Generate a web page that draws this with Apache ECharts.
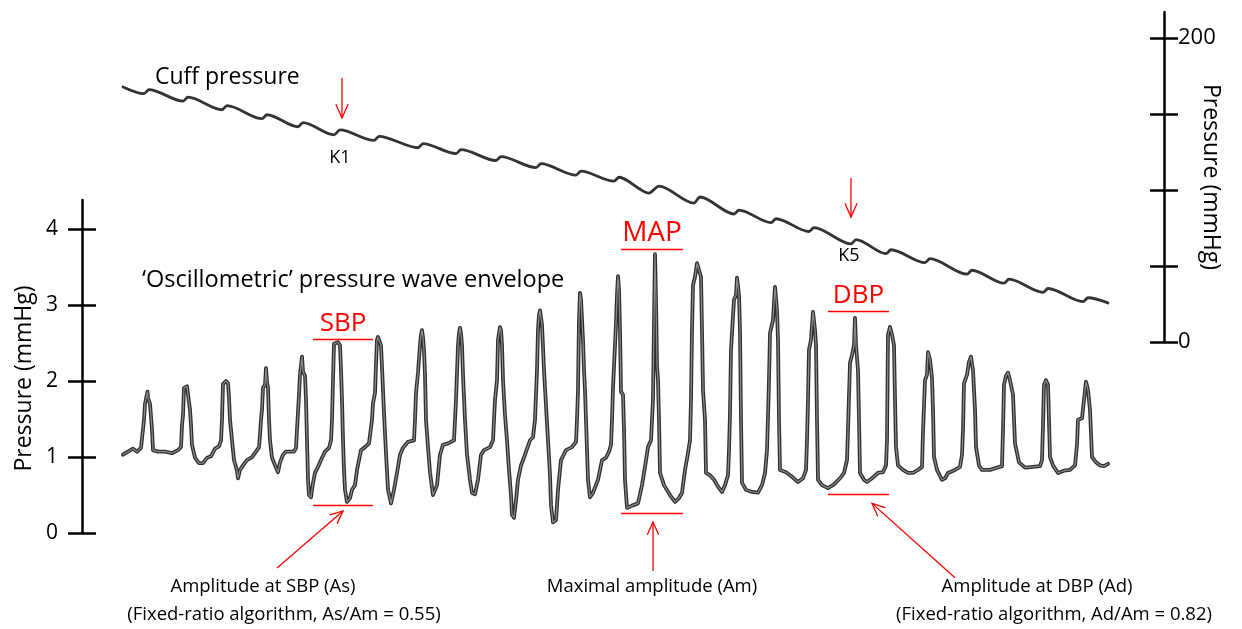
<!DOCTYPE html>
<html>
<head>
<meta charset="utf-8">
<script src="https://cdn.jsdelivr.net/npm/echarts@6/dist/echarts.min.js"></script>
<style>
  html, body { margin: 0; padding: 0; background: #ffffff; }
  #chart { width: 1242px; height: 629px; }
</style>
</head>
<body>
<div id="chart"></div>
<script>
// Oscillometric pulse envelope: [time (s), pressure (mmHg)], 50 Hz trace
const envelope = [
  [0, 1.03], [0.10, 1.07], [0.20, 1.11], [0.28, 1.07], [0.36, 1.12],
  [0.40, 1.14], [0.42, 1.49], [0.44, 1.70], [0.48, 1.71], [0.49, 1.86], [0.50, 1.78], [0.54, 1.70], [0.56, 1.70], [0.58, 1.36], [0.60, 1.09], [0.70, 1.07], [0.84, 1.07], [0.98, 1.05], [1.10, 1.09], [1.16, 1.13],
  [1.18, 1.42], [1.20, 1.55], [1.22, 1.91], [1.28, 1.93], [1.32, 1.91], [1.34, 1.62], [1.36, 1.42], [1.38, 1.16], [1.44, 0.99], [1.52, 0.92], [1.60, 0.92], [1.68, 0.99], [1.76, 1.01], [1.84, 1.11], [1.92, 1.14], [1.96, 1.22],
  [1.98, 1.49], [2.00, 1.96], [2.06, 2.00], [2.10, 1.97], [2.12, 1.78], [2.14, 1.49], [2.18, 1.22], [2.22, 0.96], [2.28, 0.82], [2.30, 0.72], [2.34, 0.83], [2.40, 0.89], [2.48, 0.96], [2.58, 1.00], [2.66, 1.07], [2.72, 1.13], [2.74, 1.29],
  [2.76, 1.49], [2.78, 1.62], [2.80, 1.91], [2.84, 1.95], [2.86, 2.17], [2.88, 1.99], [2.90, 1.91], [2.92, 1.49], [2.94, 1.22], [2.98, 0.99], [3.06, 0.86], [3.10, 0.80], [3.14, 0.93], [3.20, 1.03], [3.26, 1.07], [3.34, 1.07], [3.42, 1.07], [3.46, 1.12],
  [3.48, 1.36], [3.52, 1.82], [3.54, 2.08], [3.58, 2.32], [3.60, 2.12], [3.64, 2.07], [3.66, 1.75], [3.68, 1.22], [3.70, 0.70], [3.72, 0.50], [3.76, 0.47], [3.80, 0.66], [3.84, 0.79], [3.90, 0.87], [3.96, 0.96], [4.04, 1.07], [4.12, 1.12], [4.16, 1.22],
  [4.18, 1.49], [4.20, 2.01], [4.22, 2.49], [4.30, 2.51], [4.34, 2.47], [4.36, 2.14], [4.38, 1.75], [4.40, 1.22], [4.42, 0.83], [4.44, 0.57], [4.48, 0.41], [4.54, 0.46], [4.58, 0.57], [4.64, 0.63], [4.68, 0.83], [4.72, 0.96], [4.76, 1.09], [4.84, 1.13], [4.92, 1.18],
  [4.98, 1.49], [5.00, 1.71], [5.04, 1.84], [5.06, 2.21], [5.08, 2.54], [5.10, 2.58], [5.12, 2.54], [5.16, 2.47], [5.18, 2.18], [5.22, 1.58], [5.26, 1.05], [5.30, 0.57], [5.36, 0.39], [5.42, 0.57], [5.48, 0.79], [5.54, 1.03], [5.60, 1.12], [5.70, 1.20], [5.82, 1.22],
  [5.84, 1.49], [5.86, 1.84], [5.90, 2.11], [5.94, 2.47], [5.96, 2.61], [5.98, 2.67], [6.00, 2.57], [6.02, 2.41], [6.04, 2.08], [6.06, 1.49], [6.10, 1.13], [6.14, 0.80], [6.20, 0.50], [6.24, 0.50], [6.28, 0.63], [6.34, 1.03], [6.40, 1.16], [6.50, 1.18], [6.62, 1.22],
  [6.64, 1.49], [6.66, 1.75], [6.68, 2.11], [6.70, 2.47], [6.72, 2.63], [6.74, 2.70], [6.76, 2.62], [6.78, 2.47], [6.80, 2.08], [6.84, 1.49], [6.88, 1.03], [6.94, 0.70], [6.98, 0.53], [7.04, 0.51], [7.10, 0.70], [7.16, 1.03], [7.22, 1.09], [7.34, 1.13], [7.40, 1.22],
  [7.42, 1.49], [7.44, 1.75], [7.48, 2.01], [7.50, 2.54], [7.54, 2.71], [7.56, 2.67], [7.58, 2.47], [7.60, 2.01], [7.64, 1.55], [7.68, 1.22], [7.72, 0.83], [7.76, 0.50], [7.78, 0.24], [7.82, 0.20], [7.86, 0.43], [7.90, 0.70], [7.96, 0.89], [8.04, 1.03], [8.14, 1.22], [8.20, 1.26],
  [8.24, 1.49], [8.26, 1.82], [8.28, 2.14], [8.30, 2.67], [8.32, 2.87], [8.34, 2.93], [8.36, 2.83], [8.38, 2.74], [8.42, 2.14], [8.46, 1.68], [8.50, 1.22], [8.54, 0.76], [8.56, 0.37], [8.60, 0.14], [8.66, 0.17], [8.70, 0.57], [8.76, 0.96], [8.86, 1.09], [8.98, 1.13], [9.06, 1.20],
  [9.08, 1.49], [9.10, 1.88], [9.12, 2.80], [9.14, 3.16], [9.16, 3.07], [9.20, 2.54], [9.22, 2.14], [9.24, 1.88], [9.26, 1.49], [9.28, 1.09], [9.30, 0.70], [9.34, 0.47], [9.40, 0.53], [9.50, 0.70], [9.58, 0.96], [9.66, 0.99], [9.72, 1.07], [9.76, 1.16],
  [9.78, 1.49], [9.80, 1.91], [9.84, 2.47], [9.86, 2.76], [9.88, 3.13], [9.90, 3.38], [9.92, 3.20], [9.94, 2.67], [9.96, 1.86], [10.00, 1.82], [10.02, 1.36], [10.04, 0.70], [10.08, 0.33], [10.18, 0.36], [10.30, 0.39], [10.38, 0.63], [10.44, 0.87], [10.50, 1.13], [10.56, 1.22],
  [10.60, 1.75], [10.62, 2.76], [10.64, 3.67], [10.66, 3.07], [10.68, 2.20], [10.70, 2.01], [10.72, 1.49], [10.74, 0.79], [10.82, 0.63], [10.94, 0.50], [11.04, 0.41], [11.12, 0.46], [11.18, 0.53], [11.24, 0.83], [11.30, 1.05], [11.34, 1.22],
  [11.36, 1.75], [11.38, 2.67], [11.40, 3.26], [11.44, 3.37], [11.48, 3.55], [11.52, 3.53], [11.56, 3.37], [11.58, 2.67], [11.60, 1.88], [11.64, 1.49], [11.66, 0.79], [11.74, 0.76], [11.82, 0.70], [11.90, 0.61], [11.98, 0.54], [12.04, 0.63], [12.10, 0.76], [12.12, 1.09],
  [12.14, 1.58], [12.16, 2.41], [12.18, 2.63], [12.22, 3.07], [12.26, 3.13], [12.28, 3.36], [12.32, 3.13], [12.34, 2.67], [12.36, 1.49], [12.38, 0.66], [12.46, 0.57], [12.58, 0.54], [12.70, 0.53], [12.78, 0.63], [12.84, 0.79], [12.88, 1.09],
  [12.90, 1.53], [12.92, 2.01], [12.94, 2.63], [13.00, 2.80], [13.04, 3.24], [13.08, 2.93], [13.10, 2.54], [13.12, 1.49], [13.14, 0.83], [13.26, 0.80], [13.38, 0.74], [13.50, 0.67], [13.60, 0.72], [13.66, 0.83], [13.68, 1.22],
  [13.70, 1.75], [13.72, 2.41], [13.76, 2.54], [13.80, 2.91], [13.84, 2.67], [13.86, 2.47], [13.88, 1.49], [13.90, 0.70], [13.98, 0.63], [14.10, 0.59], [14.22, 0.64], [14.34, 0.72], [14.42, 0.79], [14.48, 0.96],
  [14.50, 1.36], [14.54, 2.24], [14.58, 2.34], [14.62, 2.47], [14.64, 2.83], [14.66, 2.47], [14.70, 2.14], [14.72, 1.49], [14.74, 0.79], [14.82, 0.70], [14.88, 0.67], [14.98, 0.72], [15.10, 0.79], [15.20, 0.80], [15.26, 0.89],
  [15.28, 1.22], [15.30, 2.61], [15.34, 2.71], [15.38, 2.61], [15.42, 2.47], [15.44, 1.75], [15.46, 1.13], [15.50, 0.89], [15.60, 0.83], [15.70, 0.79], [15.80, 0.79], [15.90, 0.83], [15.98, 0.87],
  [16.00, 1.33], [16.04, 2.01], [16.08, 2.08], [16.10, 2.38], [16.14, 2.28], [16.18, 2.04], [16.20, 1.62], [16.22, 1.00], [16.28, 0.83], [16.38, 0.70], [16.44, 0.72], [16.50, 0.79], [16.64, 0.83], [16.74, 0.87], [16.78, 1.03],
  [16.80, 1.36], [16.82, 1.97], [16.88, 2.08], [16.92, 2.25], [16.96, 2.32], [17.00, 2.14], [17.04, 1.62], [17.06, 1.13], [17.12, 0.89], [17.18, 0.83], [17.34, 0.83], [17.48, 0.86], [17.58, 0.88],
  [17.60, 1.36], [17.62, 1.95], [17.66, 2.07], [17.70, 2.11], [17.74, 2.01], [17.80, 1.82], [17.84, 1.18], [17.92, 0.93], [18.04, 0.86], [18.20, 0.87], [18.34, 0.88], [18.38, 0.96],
  [18.40, 1.42], [18.42, 1.95], [18.46, 2.01], [18.50, 1.95], [18.54, 1.00], [18.60, 0.89], [18.70, 0.79], [18.82, 0.82], [18.94, 0.83], [19.04, 0.89], [19.08, 1.16],
  [19.10, 1.49], [19.18, 1.51], [19.22, 1.75], [19.26, 1.99], [19.30, 1.88], [19.34, 1.62], [19.38, 1.00], [19.46, 0.93], [19.54, 0.89], [19.62, 0.88], [19.70, 0.91]
];

// Cuff pressure during deflation: [time (s), pressure (mmHg)]
const cuff = [
  [0, 167.8],
  [0.42, 163.4], [0.52, 166.0],
  [1.20, 158.5], [1.30, 161.1],
  [1.98, 152.8], [2.08, 155.5],
  [2.78, 146.9], [2.88, 149.5],
  [3.50, 141.6], [3.60, 144.3],
  [4.22, 136.3], [4.34, 139.5],
  [5.02, 132.6], [5.12, 135.3],
  [5.90, 127.8], [6.00, 130.5],
  [6.66, 123.9], [6.76, 126.5],
  [7.46, 119.4], [7.56, 122.0],
  [8.26, 114.7], [8.36, 117.3],
  [9.06, 109.8], [9.16, 112.4],
  [9.82, 105.8], [9.92, 108.4],
  [10.52, 98.0], [10.72, 102.6],
  [11.42, 91.4], [11.54, 95.4],
  [12.22, 84.2], [12.32, 86.8],
  [12.96, 78.5], [13.06, 81.1],
  [13.72, 72.7], [13.82, 75.3],
  [14.56, 64.5], [14.66, 67.4],
  [15.26, 58.1], [15.36, 60.7],
  [16.04, 52.2], [16.14, 54.8],
  [16.88, 44.6], [16.98, 47.2],
  [17.62, 38.7], [17.72, 41.3],
  [18.40, 32.6], [18.50, 35.2],
  [19.20, 26.5], [19.30, 29.1],
  [19.70, 25.7]
];

const envelopeTicks = [0, 1, 2, 3, 4];
const cuffTicks = [0, 50, 100, 150, 200];
const cuffTickLabels = [0, 200];

// Amplitude markers: name, time span (s), upper and lower level (mmHg)
const markerNames = ['SBP', 'MAP', 'DBP'];
const markerSpans = [[3.80, 5.00], [9.96, 11.20], [14.10, 15.32]];
const markerTop = [2.55, 3.74, 2.92];
const markerBottom = [0.36, 0.26, 0.51];

// Korotkoff sound markers on the cuff trace: time (s), arrow from/to (mmHg), label level
const korotkoffNames = ['K1', 'K5'];
const korotkoffTimes = [4.38, 14.56];
const korotkoffArrowFrom = [173.7, 107.9];
const korotkoffArrowTo = [147.4, 82.2];
const korotkoffLabelLevel = [121.0, 56.6];

const FONT = '"Open Sans", "Noto Sans", sans-serif';
const RED = '#ff0000';
const T_MAX = 19.7;

const chart = echarts.init(document.getElementById('chart'), null, { renderer: 'canvas' });

// Each pressure scale is drawn twice on identical grids: once with outward
// ticks, labels and name, once with inward ticks, so the ticks cross the line.
function pressureAxis(gridIndex, side, inside, max, interval, ticks, labels, offset, nameGap, nameOpts) {
  return Object.assign({
    gridIndex: gridIndex, type: 'value', position: side, offset: offset,
    min: 0, max: max, interval: interval,
    splitLine: { show: false },
    axisLine: { show: !inside, onZero: false, lineStyle: { color: '#000', width: 2.5 } },
    axisTick: { show: true, inside: inside, length: 14, customValues: ticks, lineStyle: { color: '#000', width: 2.5 } },
    axisLabel: { show: !inside, customValues: labels, fontSize: 21, color: '#000', fontFamily: FONT },
    name: inside ? '' : 'Pressure (mmHg)',
    nameLocation: 'middle', nameGap: nameGap, nameMoveOverlap: false,
    nameTextStyle: { fontSize: 23, color: '#000', fontFamily: FONT }
  }, nameOpts);
}

const markLines = [];
markerSpans.forEach((span, i) => {
  markLines.push([{ coord: [span[0], markerTop[i]] }, { coord: [span[1], markerTop[i]] }]);
  markLines.push([{ coord: [span[0], markerBottom[i]] }, { coord: [span[1], markerBottom[i]] }]);
});

const waveGrid = { left: 123, right: 134, top: 200, height: 333 };
const cuffGrid = { left: 123, right: 134, top: 12, height: 330 };

const leftMain = pressureAxis(0, 'left', false, 4.382, 1, envelopeTicks, envelopeTicks, 41, 46, {});
leftMain.axisLabel.margin = 24;
leftMain.nameTextStyle.padding = [0, 24, 0, 0];
const leftMirror = pressureAxis(2, 'left', true, 4.382, 1, envelopeTicks, envelopeTicks, 41, 46, {});
const rightMain = pressureAxis(1, 'right', false, 217.1, 50, cuffTicks, cuffTickLabels, 56, 35, { nameRotate: -90 });
rightMain.axisLabel.margin = 14;
rightMain.axisLabel.fontSize = 22;
const rightMirror = pressureAxis(3, 'right', true, 217.1, 50, cuffTicks, cuffTickLabels, 56, 35, {});

const option = {
  animation: false,
  backgroundColor: '#ffffff',
  grid: [waveGrid, cuffGrid, Object.assign({}, waveGrid), Object.assign({}, cuffGrid)],
  xAxis: [0, 1, 2, 3].map(g => ({ gridIndex: g, type: 'value', min: 0, max: T_MAX, show: false })),
  yAxis: [leftMain, leftMirror, rightMain, rightMirror],
  series: [
    {
      type: 'line', xAxisIndex: 0, yAxisIndex: 0, data: envelope,
      showSymbol: false, silent: true,
      lineStyle: { color: '#2e2e2e', width: 3.8, join: 'round', cap: 'round' }
    },
    {
      type: 'line', xAxisIndex: 0, yAxisIndex: 0, data: envelope,
      showSymbol: false, silent: true,
      lineStyle: { color: '#8c8c8c', width: 1.2, join: 'round', cap: 'round' },
      markLine: {
        silent: true, symbol: ['none', 'none'], animation: false,
        label: { show: false },
        lineStyle: { color: RED, width: 1.3, type: 'solid' },
        emphasis: { disabled: true },
        data: markLines
      }
    },
    {
      type: 'line', xAxisIndex: 1, yAxisIndex: 2, data: cuff,
      showSymbol: false, silent: true, smooth: 0.3, smoothMonotone: 'x',
      lineStyle: { color: '#333333', width: 2.8, join: 'round', cap: 'round' }
    }
  ]
};
chart.setOption(option);

// Annotation overlay placed in data coordinates
const onWave = (t, p) => chart.convertToPixel({ seriesIndex: 0 }, [t, p]);
const onCuff = (t, m) => chart.convertToPixel({ seriesIndex: 2 }, [t, m]);

function arrow(from, to, head) {
  const ang = Math.atan2(to[1] - from[1], to[0] - from[0]);
  const spread = 0.42;
  const a1 = [to[0] - head * Math.cos(ang - spread), to[1] - head * Math.sin(ang - spread)];
  const a2 = [to[0] - head * Math.cos(ang + spread), to[1] - head * Math.sin(ang + spread)];
  return [
    { type: 'line', silent: true, shape: { x1: from[0], y1: from[1], x2: to[0], y2: to[1] }, style: { stroke: RED, lineWidth: 1.3 } },
    { type: 'polyline', silent: true, shape: { points: [a1, to, a2] }, style: { stroke: RED, fill: null, lineWidth: 1.3 } }
  ];
}
function label(pos, text, size, color, align) {
  return {
    type: 'text', silent: true, x: pos[0], y: pos[1],
    style: { text: text, fontSize: size, fontFamily: FONT, fill: color || '#000', align: align || 'center', verticalAlign: 'middle' }
  };
}

const elements = [];
// Marker titles above the upper amplitude lines
const titleSizes = [26, 28, 26];
markerNames.forEach((name, i) => {
  const mid = (markerSpans[i][0] + markerSpans[i][1]) / 2;
  const p = onWave(mid, markerTop[i]);
  elements.push(label([p[0], p[1] - 16], name, titleSizes[i], RED));
});
// Arrows pointing to the lower amplitude lines
elements.push(...arrow(onWave(3.08, -0.46), onWave(4.40, 0.29), 14));
elements.push(...arrow(onWave(10.60, -0.50), onWave(10.60, 0.145), 14));
elements.push(...arrow(onWave(16.64, -0.59), onWave(14.98, 0.39), 14));
// Korotkoff arrows and labels
korotkoffNames.forEach((name, i) => {
  elements.push(...arrow(onCuff(korotkoffTimes[i], korotkoffArrowFrom[i]), onCuff(korotkoffTimes[i], korotkoffArrowTo[i]), 15));
  elements.push(label(onCuff(korotkoffTimes[i] - 0.04, korotkoffLabelLevel[i]), name, 18));
});
// Trace titles
elements.push(label(onCuff(0.64, 174.3), 'Cuff pressure', 23, '#000', 'left'));
elements.push(label(onWave(0.38, 3.33), '\u2018Oscillometric\u2019 pressure wave envelope', 23.5, '#000', 'left'));
// Captions under the arrows
elements.push(label(onWave(2.80, -0.71), 'Amplitude at SBP (As)', 18.5));
elements.push(label(onWave(3.22, -1.07), '(Fixed-ratio algorithm, As/Am = 0.55)', 18.5));
elements.push(label(onWave(10.58, -0.71), 'Maximal amplitude (Am)', 18.5));
elements.push(label(onWave(18.28, -0.71), 'Amplitude at DBP (Ad)', 18.5));
elements.push(label(onWave(18.62, -1.07), '(Fixed-ratio algorithm, Ad/Am = 0.82)', 18.5));

chart.setOption({ graphic: { elements: elements } });
</script>
</body>
</html>
